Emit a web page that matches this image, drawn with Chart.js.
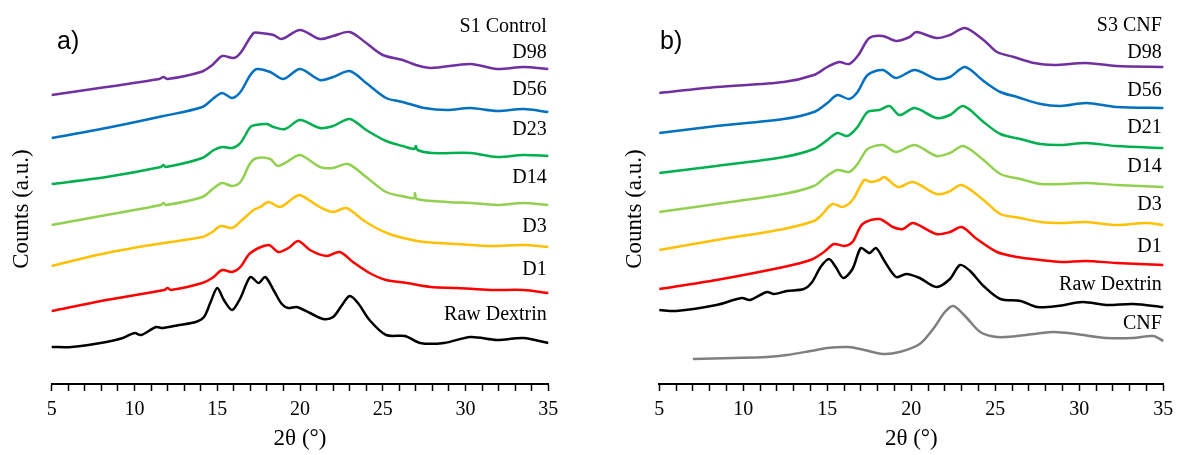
<!DOCTYPE html>
<html>
<head>
<meta charset="utf-8">
<script src="https://cdn.jsdelivr.net/npm/chart.js@4.4.0/dist/chart.umd.min.js"></script>
<style>
  html, body { margin: 0; padding: 0; background: #fff; }
  #wrap { position: relative; width: 1181px; height: 455px; }
  canvas { position: absolute; top: 0; }
  #chartA { left: 0; }
  #chartB { left: 600px; }
</style>
</head>
<body>
<div id="wrap">
  <canvas id="chartA" width="590" height="455"></canvas>
  <canvas id="chartB" width="581" height="455"></canvas>
</div>
<script>
// 2θ (deg), counts (a.u.), each trace already offset
const s1_D98 = [[5,289],[8.3,297],[11.5,305],[11.75,307],[12,305],[14,312],[14.7,319],[15.3,328],[16,326],[16.4,331],[17.2,351],[17.6,351],[18.4,349],[18.9,345],[20,354],[21.2,345],[22,348],[23,352],[24,341],[25,329],[26.2,324],[27,319],[27.9,316],[30.3,320],[31.9,315],[33.5,317],[35,315]];
const s1_D56 = [[5,246],[8.3,256],[11.75,268],[14.1,277],[14.8,286],[15.3,291],[15.9,286],[16.4,292],[17,309],[17.4,315],[18.2,312],[19,305],[20,315],[21.2,304],[22,307],[23,313],[24,301],[25.2,286],[26.2,282],[27.5,276],[28.9,274],[30.3,276],[31.9,273],[33.5,275],[35,272]];
const s1_D23 = [[5,200],[8.3,207],[11.6,217],[11.75,219],[11.9,217],[14.1,226],[14.8,234],[15.3,237],[15.9,236],[16.4,241],[17,257],[17.3,259],[18,260],[18.4,257],[19.1,255],[20,264],[21.2,256],[22,258],[23,265],[24,254],[25.2,243],[26.2,238],[26.9,235],[27,238],[27.1,234],[28,231],[30.3,231],[31.9,227],[33.5,229],[35,228]];
const s1_D14 = [[5,159],[8.3,169],[11.6,179],[11.75,181],[11.9,179],[14.1,187],[14.8,196],[15.3,201],[15.9,198],[16.4,202],[17,221],[17.4,226],[18.2,225],[18.65,218],[19.2,222],[20,229],[21.2,217],[22,216],[22.9,220],[24,207],[25.2,192],[26.4,187],[26.9,186],[26.95,191],[27.05,185],[28.9,182],[30.3,181],[31.9,179],[33.5,181],[35,179]];
const s1_D3 = [[5,118],[8.3,131],[11.75,141],[14.1,147],[14.7,152],[15.2,158],[15.9,156],[16.5,164],[17.2,174],[17.6,177],[18.1,182],[18.8,177],[19.6,186],[20,189],[21.2,177],[22,172],[22.8,176],[23.8,164],[24.6,156],[25.4,150],[26.5,145],[27.5,142],[29.5,140],[31.5,138],[33.5,139],[35,137]];
const s1_D1 = [[5,73],[8.3,84],[11.8,94],[12,96],[12.2,94],[14.1,101],[14.7,106],[15.3,114],[15.9,112],[16.4,117],[17,131],[18.1,139],[18.7,132],[19.3,136],[19.9,143],[20.6,134],[21.6,128],[22.4,132],[23.2,122],[24.2,111],[25.2,104],[26.45,101],[27.9,97],[29.5,96],[31.5,94],[33.5,94],[35,91]];
const s1_Raw = [[5,37],[6.2,37],[8.3,42],[9.3,46],[10,51],[10.4,49],[11.3,57],[11.7,56],[12.7,59],[13.7,62],[14.2,67],[14.6,82],[15,96],[15.4,84],[15.9,74],[16.4,86],[17,107],[17.5,101],[17.9,107],[18.4,94],[18.9,80],[19.3,76],[19.8,77],[20.6,71],[21.4,65],[22,67],[22.5,78],[23,88],[23.5,81],[24.2,64],[25.2,49],[26.35,48],[27.25,41],[28.7,41],[30.3,47],[31.9,44],[33.5,46],[35,41]];

const s3_D98 = [[5,291],[8.4,297],[12.4,302],[14.2,309],[15,317],[15.7,322],[16.3,320],[16.85,329],[17.5,346],[18.3,348],[19.1,343],[19.9,347],[20.3,352],[21.5,346],[22.3,349],[23.2,356],[24.3,344],[25.1,332],[26.1,327],[27.3,321],[28.5,319],[30.4,321],[32.2,318],[35,317]];
const s3_D56 = [[5,251],[8.4,258],[12.4,265],[14.2,272],[15,281],[15.6,289],[16.3,285],[16.8,292],[17.4,309],[18.3,314],[19.1,306],[20.2,314],[21.5,305],[22.3,307],[23.2,317],[24.3,303],[25.3,292],[26.3,287],[27.7,280],[28.9,278],[30.4,281],[32.2,277],[35,276]];
const s3_D21 = [[5,211],[8.4,218],[12.4,227],[14.2,235],[15,244],[15.6,251],[16.2,248],[16.8,257],[17.4,272],[18.1,274],[18.7,278],[19.3,269],[20.2,276],[21.5,266],[22.3,269],[23.1,278],[24.3,262],[25.3,250],[26.5,245],[27.7,240],[28.9,239],[30.4,241],[32.2,238],[35,236]];
const s3_D14 = [[5,172],[8.4,180],[12.4,190],[14.2,198],[14.9,207],[15.6,214],[16.3,212],[16.8,220],[17.4,235],[18.3,239],[19.1,232],[20.2,239],[21.5,228],[22.3,231],[23.1,238],[24.3,224],[25.3,210],[26.5,205],[27.7,200],[28.9,200],[30.4,201],[32.2,199],[35,197]];
const s3_D3 = [[5,134],[8.4,144],[12.4,155],[14.2,163],[14.6,168],[15.3,180],[15.9,177],[16.5,184],[17.2,204],[17.6,202],[18.1,204],[18.4,207],[19.2,197],[20.1,202],[21.5,190],[22.2,192],[23,199],[24.3,184],[25.3,170],[26.5,166],[27.7,162],[28.9,161],[30.4,162],[32.2,159],[34,161],[35,159]];
const s3_D1 = [[5,95],[8.4,104],[12.4,117],[14,124],[14.8,132],[15.4,140],[16,138],[16.5,142],[17.1,160],[18.1,165],[18.9,157],[19.5,155],[20.1,161],[21.5,150],[22.3,152],[23,157],[23.9,145],[25.1,132],[26.3,127],[27.7,124],[28.9,122],[30.4,123],[32.2,121],[35,119]];
const s3_Raw = [[5,74],[6,73],[8.4,79],[9.9,86],[10.4,84],[11.4,92],[11.8,90],[12.6,93],[13.6,95],[14.1,102],[14.6,117],[15.1,125],[15.5,117],[15.95,106],[16.5,115],[17,136],[17.5,131],[17.9,136],[18.4,123],[19.1,107],[19.7,110],[20.5,106],[21.5,97],[22.3,105],[22.9,119],[23.5,113],[24.3,98],[25.3,85],[26.5,83],[27.5,77],[28.7,78],[30.2,82],[31.6,79],[33.2,80],[35,77]];
const s3_CNF = [[7,25],[9.4,26],[11.4,27],[12.6,29],[14,33],[15,36],[16.25,37],[17.2,34],[18.3,30],[19.3,32],[20.5,40],[21.3,55],[22,72],[22.5,78],[23.2,68],[24.1,52],[25.1,47],[26.3,48],[27.3,50],[28.5,52],[29.8,50],[31.6,46],[33.2,46],[34.4,48],[35,43]];

const labelsA = ["D98", "D56", "D23", "D14", "D3", "D1", "Raw Dextrin"];
const labelsB = ["D98", "D56", "D21", "D14", "D3", "D1", "Raw Dextrin", "CNF"];
const colors = ["#7030A0", "#0070C0", "#00B050", "#92D050", "#FFC000", "#FF0000", "#000000", "#7F7F7F"];

// where the text labels sit (counts units, right side of the plot)
const labelYA = [331, 294, 254, 206, 157, 114, 69];
const labelYB = [331, 293, 256, 217, 179, 137, 99, 60];

const serif = '"Liberation Serif", "Times New Roman", serif';

const textPlugin = {
  id: "panelText",
  afterDraw(chart, args, o) {
    const { ctx, chartArea, scales } = chart;
    ctx.save();
    ctx.fillStyle = "#000";
    ctx.font = '25px "Liberation Sans", Arial, sans-serif';
    ctx.textAlign = "left";
    ctx.textBaseline = "alphabetic";
    ctx.fillText(o.letter, o.letterX, 49);

    ctx.font = "20px " + serif;
    ctx.textAlign = "right";
    ctx.textBaseline = "middle";
    const xr = chartArea.right - 1.5;
    ctx.fillText(o.title, xr, scales.y.getPixelForValue(o.titleY));
    o.labels.forEach((t, i) => {
      ctx.fillText(t, xr, scales.y.getPixelForValue(o.labelY[i]));
    });

    // y title, axis itself is hidden
    ctx.font = "23px " + serif;
    ctx.translate(o.yTitleX, 209);
    ctx.rotate(-Math.PI / 2);
    ctx.textAlign = "center";
    ctx.fillText("Counts (a.u.)", 0, 0);
    ctx.restore();
  }
};

function makeChart(id, series, names, pad, text) {
  const datasets = series.map((pts, i) => ({
    label: names[i],
    data: pts.map(([x, y]) => ({ x, y })),
    borderColor: colors[i],
    borderWidth: 2.5,
    pointRadius: 0,
    tension: 0.3,
    clip: false
  }));

  return new Chart(document.getElementById(id), {
    type: "line",
    data: { datasets },
    options: {
      responsive: false,
      animation: false,
      devicePixelRatio: 1,
      layout: { padding: pad },
      plugins: {
        legend: { display: false },
        tooltip: { enabled: false },
        panelText: text
      },
      scales: {
        x: {
          type: "linear",
          min: 5,
          max: 35,
          afterFit: (s) => { s.height = 71; },
          border: { display: true, color: "#000", width: 2 },
          grid: { display: true, drawOnChartArea: false, drawTicks: true, tickLength: 7, tickColor: "#000", tickWidth: 1.5 },
          ticks: {
            stepSize: 1,
            autoSkip: false,
            maxRotation: 0,
            padding: 7,
            color: "#000",
            font: { family: serif, size: 20 },
            callback: (v) => (v % 5 === 0 ? v : "")
          },
          title: {
            display: true,
            text: "2θ (°)",
            color: "#000",
            font: { family: serif, size: 23 },
            padding: { top: 0, bottom: 2 }
          }
        },
        y: { display: false, min: 0, max: 384 }
      }
    },
    plugins: [textPlugin]
  });
}

makeChart("chartA",
  [s1_D98, s1_D56, s1_D23, s1_D14, s1_D3, s1_D1, s1_Raw],
  labelsA,
  { left: 51.7, right: 41.7, top: 0, bottom: 0 },
  { letter: "a)", letterX: 57, title: "S1 Control", titleY: 357, labels: labelsA, labelY: labelYA, yTitleX: 22 });

makeChart("chartB",
  [s3_D98, s3_D56, s3_D21, s3_D14, s3_D3, s3_D1, s3_Raw, s3_CNF],
  labelsB,
  { left: 59.3, right: 17.7, top: 0, bottom: 0 },
  { letter: "b)", letterX: 60, title: "S3 CNF", titleY: 358, labels: labelsB, labelY: labelYB, yTitleX: 35 });
</script>
</body>
</html>
